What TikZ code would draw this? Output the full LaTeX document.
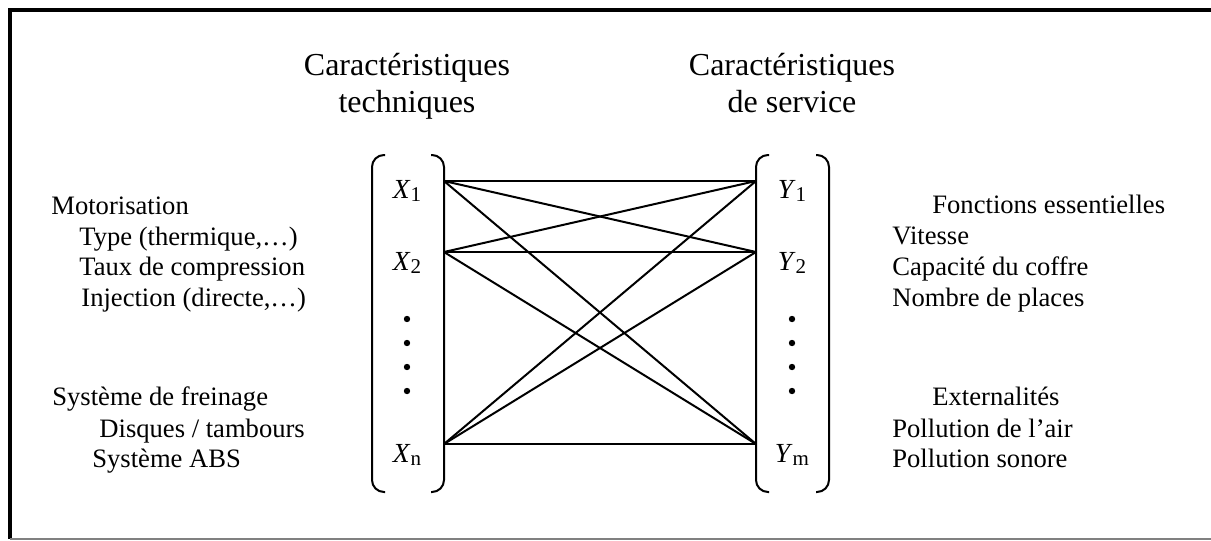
\documentclass[tikz,border=0pt]{standalone}
\usepackage{fontspec}
\setmainfont{Liberation Serif}
\usetikzlibrary{positioning}

\newcommand{\indice}[1]{\raisebox{-1.8pt}{\fontsize{10.5}{12}\selectfont #1}}

\begin{document}
\begin{tikzpicture}[
    x=0.5pt, y=-0.5pt,
    font=\fontsize{13.3}{15.3}\selectfont,
    title/.style={font=\fontsize{16}{18.5}\selectfont, anchor=base, inner sep=0pt},
    item/.style={anchor=base west, inner sep=0pt},
    var/.style={anchor=base, inner sep=0pt, font=\fontsize{13.8}{15.3}\selectfont},
    brack/.style={line width=1pt, rounded corners=6pt},
    link/.style={line width=1pt},
]
    \useasboundingbox (0,0) rectangle (1211,541);

    % Cadre
    \draw[line width=2pt] (1211,10) -- (10,10) -- (10,539);
    \draw[gray, line width=0.6pt] (10,539) -- (1211,539);

    % Titres
    \node[title] (techA) at (407,75)  {Caractéristiques};
    \node[title] (techB) at (407,112) {techniques};
    \node[title] (servA) at (792,75)  {Caractéristiques};
    \node[title] (servB) at (792,112) {de service};

    % Parenthèses
    \draw[brack] (385,155) -- (372,155) -- (372,492) -- (385,492);
    \draw[brack] (431,155) -- (444,155) -- (444,492) -- (431,492);
    \draw[brack] (769,155) -- (756,155) -- (756,492) -- (769,492);
    \draw[brack] (816,155) -- (829,155) -- (829,492) -- (816,492);

    % Variables
    \node[var] (X1) at (407,198) {\textit{X}\indice{1}};
    \node[var] (X2) at (407,270) {\textit{X}\indice{2}};
    \node[var] (Xn) at (407,462) {\textit{X}\indice{n}};
    \node[var] (Y1) at (792,198) {\textit{Y}\indice{1}};
    \node[var] (Y2) at (792,270) {\textit{Y}\indice{2}};
    \node[var] (Ym) at (792,462) {\textit{Y}\indice{m}};
    \foreach \y in {319,343,367,391} {
        \fill (407,\y) circle (1.6pt);
        \fill (792,\y) circle (1.6pt);
    }

    % Liaisons entre caractéristiques
    \coordinate (x1) at (444,181);
    \coordinate (x2) at (444,252);
    \coordinate (xn) at (444,444);
    \coordinate (y1) at (756,181);
    \coordinate (y2) at (756,252);
    \coordinate (ym) at (756,444);
    \foreach \a in {x1,x2,xn}
        \foreach \b in {y1,y2,ym}
            \draw[link] (\a) -- (\b);

    % Caractéristiques techniques
    \node[item] (moteur) at (51,214)  {Motorisation};
    \node[item] (type)   at (79,245)  {Type (thermique,…)};
    \node[item] (taux)   at (79,275)  {Taux de compression};
    \node[item] (inject) at (81,306)  {Injection (directe,…)};
    \node[item] (frein)  at (52,405)  {Système de freinage};
    \node[item] (disque) at (99,437)  {Disques / tambours};
    \node[item] (abs)    at (92,467)  {Système ABS};

    % Caractéristiques de service
    \node[item] (fonct)  at (932,213) {Fonctions essentielles};
    \node[item] (vit)    at (892,244) {Vitesse};
    \node[item] (coffre) at (892,275) {Capacité du coffre};
    \node[item] (places) at (892,306) {Nombre de places};
    \node[item] (extern) at (932,405) {Externalités};
    \node[item] (air)    at (892,437) {Pollution de l’air};
    \node[item] (sonore) at (892,467) {Pollution sonore};

\end{tikzpicture}
\end{document}
